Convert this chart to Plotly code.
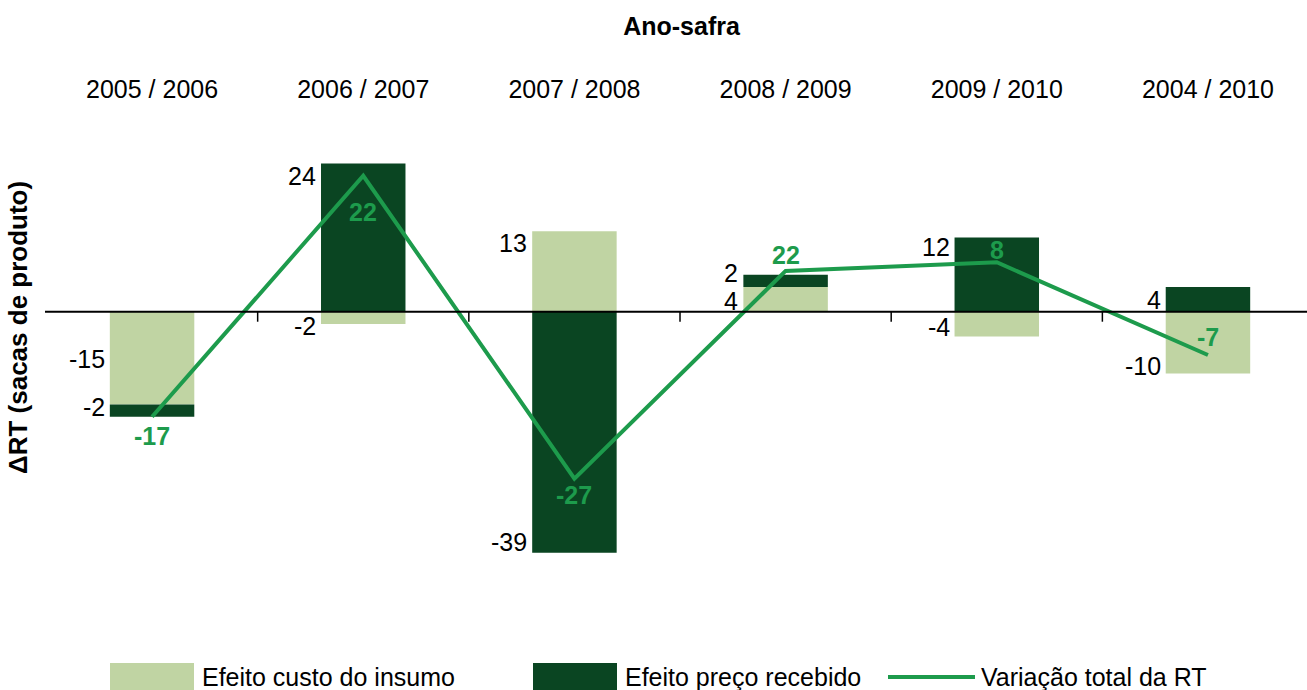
import plotly.graph_objects as go

# ---------------- data ----------------
categories = ["2005 / 2006", "2006 / 2007", "2007 / 2008", "2008 / 2009", "2009 / 2010", "2004 / 2010"]
efeito_custo = [-15, -2, 13, 4, -4, -10]          # Efeito custo do insumo
efeito_preco = [-2, 24, -39, 2, 12, 4]            # Efeito preço recebido
variacao_total = [-17, 22, -27, 6.6, 8, -7]       # Variação total da RT (line)
variacao_rotulos = ["-17", "22", "-27", "22", "8", "-7"]

# ---------------- style / layout ----------------
W, H = 1307, 690
L, R, T, B = 45, 0, 104, 50
PW, PH = W - L - R, H - T - B
FONT = "Liberation Sans, Arial, sans-serif"
FS = 25
C_LIGHT = "#c0d4a3"
C_DARK = "#0a4522"
C_LINE = "#1d9b4c"
BAR_W = 0.4
YR = [-53.12, 33.61]
XR = [-0.507, 5.469]

# pixel offsets of labels (style only)
light_dy = [45, -2, -12, -14, 9, 8]
dark_dy = [10, -13, 11, 2, -9, -13]
line_dy = [-19, -36, -16, 16, 12, 18]


def px_x(px):
    return (px - L) / PW


def px_y(py):
    return (H - B - py) / PH


fig = go.Figure()
fig.add_trace(go.Bar(x=categories, y=efeito_custo, name="Efeito custo do insumo",
                     marker=dict(color=C_LIGHT, line=dict(width=0)), width=BAR_W,
                     showlegend=False, hoverinfo="skip"))
fig.add_trace(go.Bar(x=categories, y=efeito_preco, name="Efeito preço recebido",
                     marker=dict(color=C_DARK, line=dict(width=0)), width=BAR_W,
                     showlegend=False, hoverinfo="skip"))
fig.add_trace(go.Scatter(x=categories, y=variacao_total, mode="lines",
                         name="Variação total da RT",
                         line=dict(color=C_LINE, width=4), showlegend=False,
                         hoverinfo="skip"))

annotations = []
shapes = []

# bar value labels (left of each bar, at the outer end of each segment)
for i, (a, b) in enumerate(zip(efeito_custo, efeito_preco)):
    end_a = a
    base_b = a if (a >= 0) == (b >= 0) else 0
    end_b = base_b + b
    for val, end, dy in ((a, end_a, light_dy[i]), (b, end_b, dark_dy[i])):
        annotations.append(dict(x=i - BAR_W / 2, y=end, xref="x", yref="y",
                                text=str(val), showarrow=False,
                                xanchor="right", yanchor="middle",
                                xshift=-4, yshift=dy, borderpad=0,
                                font=dict(family=FONT, size=FS, color="black")))

# line value labels
for i, (v, t) in enumerate(zip(variacao_total, variacao_rotulos)):
    annotations.append(dict(x=i, y=v, xref="x", yref="y", text="<b>%s</b>" % t,
                            showarrow=False, xanchor="center", yanchor="middle",
                            yshift=line_dy[i],
                            font=dict(family=FONT, size=FS, color=C_LINE)))

# zero line and category-boundary ticks
shapes.append(dict(type="line", xref="paper", yref="y", x0=0, x1=1, y0=0, y1=0,
                   line=dict(color="black", width=2), layer="above"))
for k in range(len(categories) - 1):
    shapes.append(dict(type="line", xref="x", yref="y", ysizemode="pixel", yanchor=0,
                       x0=k + 0.5, x1=k + 0.5, y0=0, y1=-10,
                       line=dict(color="black", width=1.5), layer="above"))

# y-axis title
annotations.append(dict(x=px_x(18), y=px_y(328), xref="paper", yref="paper",
                        text="<b>ΔRT (sacas de produto)</b>", textangle=-90,
                        showarrow=False, xanchor="center", yanchor="middle",
                        font=dict(family=FONT, size=26, color="black")))

# custom legend
leg_y0, leg_y1 = px_y(663), px_y(692)
legend_items = [
    ("rect", C_LIGHT, 110, 194, 201, "Efeito custo do insumo"),
    ("rect", C_DARK, 533, 617, 624, "Efeito preço recebido"),
    ("line", C_LINE, 888, 975, 980, "Variação total da RT"),
]
for kind, col, xa, xb, xt, label in legend_items:
    if kind == "rect":
        shapes.append(dict(type="rect", xref="paper", yref="paper",
                           x0=px_x(xa), x1=px_x(xb), y0=leg_y0, y1=leg_y1,
                           fillcolor=col, line=dict(width=0), layer="above"))
    else:
        shapes.append(dict(type="line", xref="paper", yref="paper",
                           x0=px_x(xa), x1=px_x(xb), y0=px_y(677), y1=px_y(677),
                           line=dict(color=col, width=4), layer="above"))
    annotations.append(dict(x=px_x(xt), y=px_y(677), xref="paper", yref="paper",
                            text=label, showarrow=False, xanchor="left",
                            yanchor="middle", borderpad=0,
                            font=dict(family=FONT, size=FS, color="black")))

fig.update_layout(
    width=W, height=H,
    margin=dict(l=L, r=R, t=T, b=B, pad=0),
    paper_bgcolor="white", plot_bgcolor="white",
    barmode="relative",
    showlegend=False,
    title=dict(text="<b>Ano-safra</b>", x=681.5 / W, xref="container", xanchor="center",
               y=1 - 26 / H, yref="container", yanchor="middle",
               font=dict(family=FONT, size=FS, color="black")),
    xaxis=dict(type="category", side="top", range=XR, showgrid=False,
               zeroline=False, showline=False, ticks="",
               tickfont=dict(family=FONT, size=FS, color="black")),
    yaxis=dict(range=YR, showgrid=False, zeroline=False, showline=False,
               showticklabels=False, ticks=""),
    annotations=annotations,
    shapes=shapes,
)

fig.write_html("out.html",
               config={"displayModeBar": False, "staticPlot": True},
               post_script="document.body.style.margin='0px';"
                           "document.body.style.overflow='hidden';")
